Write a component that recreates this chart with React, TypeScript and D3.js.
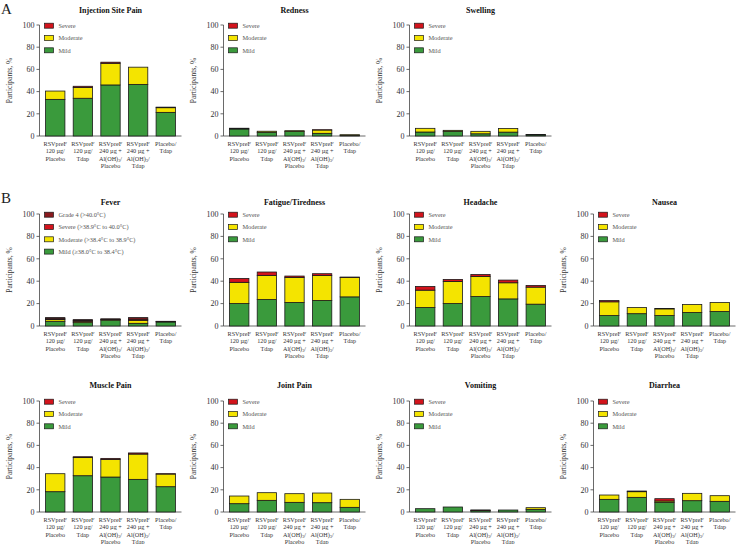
import React from "react";
import * as d3 from "d3";

const categoryLines: string[][] = [
  ["RSVpreF", "120 µg/", "Placebo"],
  ["RSVpreF", "120 µg/", "Tdap"],
  ["RSVpreF", "240 µg +", "Al(OH)_3/", "Placebo"],
  ["RSVpreF", "240 µg +", "Al(OH)_3/", "Tdap"],
  ["Placebo/", "Tdap"],
];
const categories = ["g1", "g2", "g3", "g4", "g5"];
const yTicks = [0, 20, 40, 60, 80, 100];

const severityLabels = ["Mild", "Moderate", "Severe"];
const feverLabels = [
  "Mild (≥38.0°C to 38.4°C)",
  "Moderate (>38.4°C to 38.9°C)",
  "Severe (>38.9°C to 40.0°C)",
  "Grade 4 (>40.0°C)",
];
const colors = ["#3a9a3c", "#f4e400", "#d3131c", "#8a1a1e"];

// Local reactions
const injMild = [33, 34, 46, 46.5, 21.3];
const injModerate = [7.5, 9.8, 19.5, 15.5, 4.2];
const injSevere = [0, 1.0, 1.0, 0, 0.5];

const redMild = [6.3, 3.3, 4.0, 2.4, 0.8];
const redModerate = [0.7, 1.0, 0.8, 3.0, 0.3];
const redSevere = [0, 0, 0, 0.2, 0];

const swMild = [3.6, 4.2, 2.0, 3.5, 1.0];
const swModerate = [3.3, 0.9, 2.2, 3.3, 0.3];
const swSevere = [0, 0, 0, 0, 0];

// Systemic events
const fevMild = [4.2, 3.0, 5.2, 2.4, 3.6];
const fevModerate = [1.5, 1.2, 0.5, 2.7, 0.4];
const fevSevere = [0.8, 0.7, 0.3, 1.0, 0.2];
const fevGrade4 = [1.0, 0.8, 0.4, 1.4, 0];

const fatMild = [20, 23.6, 21, 22.8, 26];
const fatModerate = [19, 21.6, 22.4, 22.2, 17.4];
const fatSevere = [3.5, 3.0, 1.2, 1.7, 0.3];

const headMild = [16.5, 20, 26.3, 24.2, 19.5];
const headModerate = [15.5, 19.8, 18, 14.4, 15.2];
const headSevere = [3.3, 1.8, 1.7, 2.4, 1.5];

const nauMild = [9.3, 11, 9.3, 12, 12.9];
const nauModerate = [12.3, 5.5, 6, 7.2, 8.1];
const nauSevere = [1.1, 0, 0.3, 0, 0];

const musMild = [18.3, 32.7, 31.5, 29.4, 22.8];
const musModerate = [16.2, 16.3, 15.9, 22.8, 11.4];
const musSevere = [0, 0.8, 0.9, 1.0, 0.3];

const jntMild = [7.5, 10.5, 8.7, 8.4, 4.2];
const jntModerate = [6.9, 6.9, 7.8, 8.7, 7.2];
const jntSevere = [0, 0, 0, 0, 0];

const vomMild = [3.0, 4.5, 1.2, 1.8, 2.4];
const vomModerate = [0, 0, 0.4, 0, 1.5];
const vomSevere = [0, 0, 0.2, 0, 0];

const diaMild = [11.4, 13.2, 8.7, 10.2, 9.6];
const diaModerate = [3.9, 5.1, 1.2, 6.6, 5.1];
const diaSevere = [0, 0.6, 2.1, 0, 0];

type Panel = { title: string; row: number; col: number; series: number[][]; labels: string[] };

const panels: Panel[] = [
  { title: "Injection Site Pain", row: 0, col: 0, series: [injMild, injModerate, injSevere], labels: severityLabels },
  { title: "Redness", row: 0, col: 1, series: [redMild, redModerate, redSevere], labels: severityLabels },
  { title: "Swelling", row: 0, col: 2, series: [swMild, swModerate, swSevere], labels: severityLabels },
  { title: "Fever", row: 1, col: 0, series: [fevMild, fevModerate, fevSevere, fevGrade4], labels: feverLabels },
  { title: "Fatigue/Tiredness", row: 1, col: 1, series: [fatMild, fatModerate, fatSevere], labels: severityLabels },
  { title: "Headache", row: 1, col: 2, series: [headMild, headModerate, headSevere], labels: severityLabels },
  { title: "Nausea", row: 1, col: 3, series: [nauMild, nauModerate, nauSevere], labels: severityLabels },
  { title: "Muscle Pain", row: 2, col: 0, series: [musMild, musModerate, musSevere], labels: severityLabels },
  { title: "Joint Pain", row: 2, col: 1, series: [jntMild, jntModerate, jntSevere], labels: severityLabels },
  { title: "Vomiting", row: 2, col: 2, series: [vomMild, vomModerate, vomSevere], labels: severityLabels },
  { title: "Diarrhea", row: 2, col: 3, series: [diaMild, diaModerate, diaSevere], labels: severityLabels },
];

const axisX = [39.5, 223.5, 409.5, 593.5];
const rowTop = [25, 214, 401];
const rowBottom = [136, 326, 512];
const titleY = [13, 205, 388];
const plotW = 142;
const FONT = "'Liberation Serif', 'DejaVu Serif', serif";

function LabelLine({ text, x, y }: { text: string; x: number; y: number }) {
  const parts = text.split("_");
  if (parts.length === 1) {
    return (
      <text x={x} y={y} textAnchor="middle" fontSize={6.2} fill="#333" fontFamily={FONT}>
        {text}
      </text>
    );
  }
  const sub = parts[1].charAt(0);
  const rest = parts[1].slice(1);
  return (
    <text x={x} y={y} textAnchor="middle" fontSize={6.2} fill="#333" fontFamily={FONT}>
      <tspan>{parts[0]}</tspan>
      <tspan dy={1.6} fontSize={4.3}>{sub}</tspan>
      <tspan dy={-1.6}>{rest}</tspan>
    </text>
  );
}

function PanelView({ p }: { p: Panel }) {
  const ax = axisX[p.col];
  const y0 = rowBottom[p.row];
  const y100 = rowTop[p.row];
  const x = d3.scaleBand<string>().domain(categories).range([ax, ax + plotW]).paddingInner(0.3).paddingOuter(0.22);
  const y = d3.scaleLinear().domain([0, 100]).range([y0, y100]);
  const stacked = d3.stack<number>().keys(p.series.map((_, i) => String(i))).value((d, k) => p.series[+k][d])(
    categories.map((_, i) => i)
  );
  const legendOrder = p.labels.map((l, i) => ({ l, i })).reverse();
  return (
    <g>
      <text x={ax + plotW / 2} y={titleY[p.row]} textAnchor="middle" fontSize={8} fontWeight="bold" fill="#111" fontFamily={FONT}>
        {p.title}
      </text>
      <text
        transform={`translate(${ax - 28},${(y0 + y100) / 2}) rotate(-90)`}
        textAnchor="middle"
        fontSize={7.5}
        fill="#333"
        fontFamily={FONT}
      >
        Participants, %
      </text>
      {yTicks.map((t) => (
        <g key={t}>
          <line x1={ax - 3} x2={ax} y1={y(t)} y2={y(t)} stroke="#444" strokeWidth={0.8} />
          <text x={ax - 5} y={y(t) + 2.7} textAnchor="end" fontSize={8} fill="#333" fontFamily={FONT}>
            {t}
          </text>
        </g>
      ))}
      <line x1={ax} x2={ax} y1={y100} y2={y0} stroke="#444" strokeWidth={0.8} />
      <line x1={ax} x2={ax + plotW} y1={y0} y2={y0} stroke="#444" strokeWidth={0.8} />
      {stacked.map((layer, si) =>
        layer.map((d, ci) => {
          const h = y(d[0]) - y(d[1]);
          if (h <= 0) return null;
          return (
            <rect
              key={`${si}-${ci}`}
              x={x(categories[ci])}
              width={x.bandwidth()}
              y={y(d[1])}
              height={h}
              fill={colors[si]}
              stroke="#1a1a1a"
              strokeWidth={0.8}
            />
          );
        })
      )}
      {legendOrder.map(({ l, i }, k) => (
        <g key={l}>
          <rect x={ax + 5} y={y100 + 12.3 * k - 1.8} width={9} height={5} fill={colors[i]} stroke="#1a1a1a" strokeWidth={0.7} />
          <text x={ax + 19} y={y100 + 12.3 * k + 2.9} fontSize={6.3} fill="#555" fontFamily={FONT}>
            {l}
          </text>
        </g>
      ))}
      {categoryLines.map((lines, ci) =>
        lines.map((ln, li) => (
          <LabelLine key={`${ci}-${li}`} text={ln} x={(x(categories[ci]) as number) + x.bandwidth() / 2} y={y0 + 10 + li * 7.4} />
        ))
      )}
    </g>
  );
}

export default function App() {
  return (
    <svg width={738} height={544} style={{ position: "absolute", left: 0, top: 0, background: "#fff" }}>
      <text x={1} y={14} fontSize={15} fill="#222" fontFamily={FONT}>A</text>
      <text x={1} y={203} fontSize={15} fill="#222" fontFamily={FONT}>B</text>
      {panels.map((p) => (
        <PanelView key={p.title} p={p} />
      ))}
    </svg>
  );
}
